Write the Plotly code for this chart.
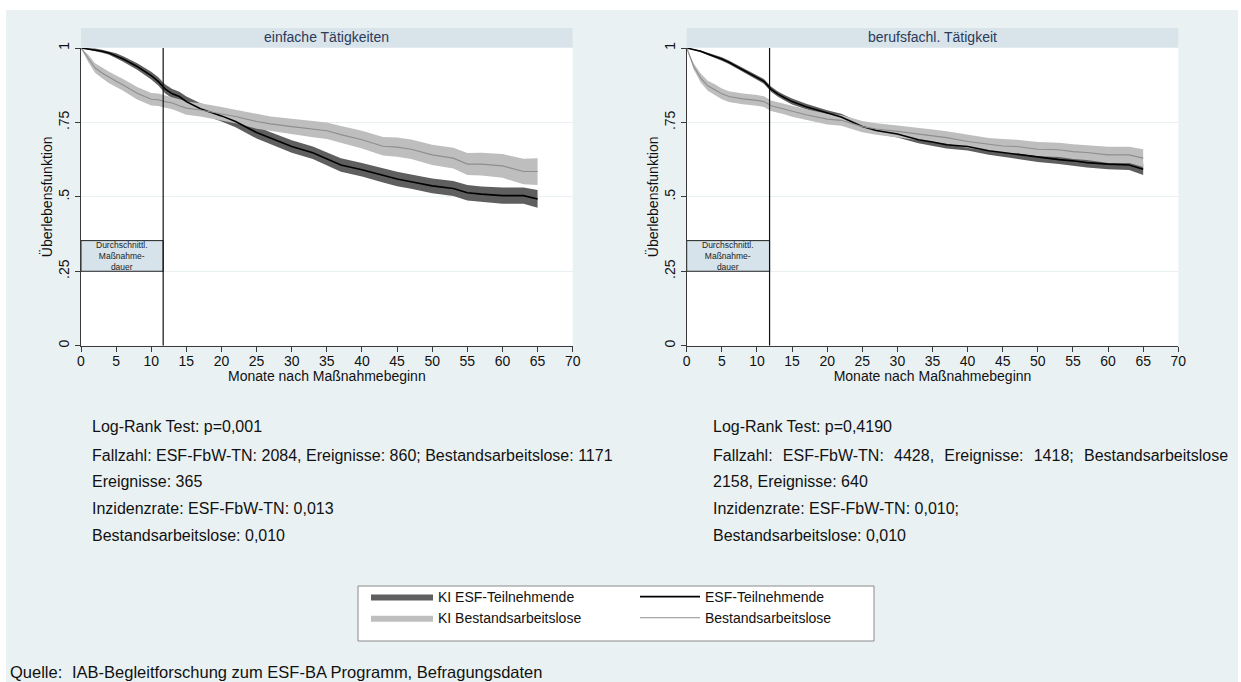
import plotly.graph_objects as go

# ---------------- data ----------------
MONTHS = [0, 1, 2, 3, 4, 5, 6, 8, 10, 11, 12, 13, 14, 15, 17, 20, 22, 25, 27, 30,
          33, 35, 37, 40, 43, 45, 47, 50, 53, 55, 57, 60, 63, 65]

# Panel 1: einfache Tätigkeiten
L_ESF = [1.0, 0.997, 0.994, 0.989, 0.983, 0.974, 0.963, 0.938, 0.907, 0.888, 0.862, 0.846,
         0.837, 0.82, 0.796, 0.772, 0.753, 0.716, 0.697, 0.669, 0.648, 0.627, 0.607, 0.591,
         0.572, 0.56, 0.551, 0.537, 0.528, 0.514, 0.509, 0.504, 0.504, 0.493]
L_ESF_UP = [1.0, 0.999, 0.998, 0.994, 0.989, 0.982, 0.972, 0.949, 0.92, 0.902, 0.877, 0.862,
            0.853, 0.837, 0.814, 0.791, 0.772, 0.736, 0.717, 0.69, 0.669, 0.649, 0.63, 0.614,
            0.595, 0.584, 0.575, 0.562, 0.553, 0.54, 0.535, 0.531, 0.531, 0.523]
L_ESF_LO = [1.0, 0.995, 0.99, 0.984, 0.977, 0.966, 0.954, 0.927, 0.894, 0.874, 0.847, 0.831,
            0.821, 0.803, 0.778, 0.753, 0.734, 0.696, 0.677, 0.648, 0.627, 0.605, 0.584, 0.568,
            0.548, 0.536, 0.527, 0.512, 0.503, 0.488, 0.483, 0.477, 0.477, 0.463]
L_BAL = [1.0, 0.966, 0.933, 0.916, 0.901, 0.888, 0.876, 0.848, 0.828, 0.826, 0.82, 0.815,
         0.806, 0.798, 0.792, 0.779, 0.77, 0.753, 0.745, 0.736, 0.727, 0.722, 0.709, 0.692,
         0.67, 0.667, 0.66, 0.641, 0.63, 0.61, 0.61, 0.604, 0.585, 0.585]
L_BAL_UP = [1.0, 0.978, 0.949, 0.934, 0.92, 0.908, 0.896, 0.869, 0.849, 0.847, 0.841, 0.836,
            0.828, 0.82, 0.814, 0.802, 0.793, 0.777, 0.77, 0.762, 0.754, 0.75, 0.738, 0.722,
            0.701, 0.699, 0.693, 0.675, 0.665, 0.647, 0.648, 0.644, 0.628, 0.63]
L_BAL_LO = [1.0, 0.954, 0.917, 0.898, 0.882, 0.868, 0.856, 0.827, 0.807, 0.805, 0.799, 0.794,
            0.784, 0.776, 0.77, 0.756, 0.747, 0.729, 0.72, 0.71, 0.7, 0.694, 0.68, 0.662,
            0.639, 0.635, 0.627, 0.607, 0.595, 0.573, 0.572, 0.564, 0.542, 0.54]

# Panel 2: berufsfachl. Tätigkeit
R_ESF = [1.0, 0.995, 0.989, 0.98, 0.972, 0.963, 0.952, 0.927, 0.901, 0.888, 0.862, 0.845,
         0.832, 0.82, 0.803, 0.781, 0.768, 0.736, 0.723, 0.711, 0.692, 0.684, 0.675, 0.669,
         0.655, 0.649, 0.643, 0.632, 0.625, 0.621, 0.615, 0.61, 0.607, 0.593]
R_ESF_UP = [1.0, 0.997, 0.992, 0.984, 0.977, 0.969, 0.958, 0.934, 0.909, 0.896, 0.871, 0.854,
            0.841, 0.83, 0.813, 0.791, 0.779, 0.747, 0.734, 0.723, 0.704, 0.697, 0.688, 0.682,
            0.669, 0.663, 0.657, 0.647, 0.64, 0.637, 0.631, 0.627, 0.624, 0.613]
R_ESF_LO = [1.0, 0.993, 0.986, 0.976, 0.967, 0.957, 0.946, 0.92, 0.893, 0.88, 0.853, 0.836,
            0.823, 0.81, 0.793, 0.771, 0.757, 0.725, 0.712, 0.699, 0.68, 0.671, 0.662, 0.656,
            0.641, 0.635, 0.629, 0.617, 0.61, 0.605, 0.599, 0.593, 0.59, 0.573]
R_BAL = [1.0, 0.938, 0.899, 0.873, 0.86, 0.846, 0.837, 0.829, 0.824, 0.82, 0.806, 0.8,
         0.795, 0.787, 0.776, 0.761, 0.757, 0.736, 0.728, 0.72, 0.712, 0.705, 0.699, 0.686,
         0.676, 0.671, 0.669, 0.66, 0.658, 0.652, 0.649, 0.641, 0.641, 0.63]
R_BAL_UP = [1.0, 0.948, 0.914, 0.89, 0.878, 0.864, 0.855, 0.847, 0.842, 0.838, 0.824, 0.818,
            0.813, 0.805, 0.794, 0.779, 0.775, 0.755, 0.747, 0.74, 0.733, 0.726, 0.72, 0.708,
            0.698, 0.694, 0.692, 0.684, 0.682, 0.677, 0.674, 0.668, 0.668, 0.66]
R_BAL_LO = [1.0, 0.928, 0.884, 0.856, 0.842, 0.828, 0.819, 0.811, 0.806, 0.802, 0.788, 0.782,
            0.777, 0.769, 0.758, 0.743, 0.739, 0.717, 0.709, 0.7, 0.691, 0.684, 0.678, 0.664,
            0.654, 0.648, 0.646, 0.636, 0.634, 0.627, 0.624, 0.614, 0.614, 0.6]

MEAN_DURATION = [11.7, 11.8]          # mean programme duration (months), per panel
PANEL_TITLES = ["einfache Tätigkeiten", "berufsfachl. Tätigkeit"]
X_TICKS = list(range(0, 75, 5))
Y_TICKS = [0, 0.25, 0.5, 0.75, 1]
Y_TICKTEXT = ["0", ".25", ".5", ".75", "1"]
SERIES_NAMES = ["KI ESF-Teilnehmende", "KI Bestandsarbeitslose", "ESF-Teilnehmende", "Bestandsarbeitslose"]

STATS_LEFT = [
    "Log-Rank Test: p=0,001",
    "Fallzahl: ESF-FbW-TN: 2084, Ereignisse: 860; Bestandsarbeitslose: 1171",
    "Ereignisse: 365",
    "Inzidenzrate: ESF-FbW-TN: 0,013",
    "Bestandsarbeitslose: 0,010",
]
GAP = "\u00a0\u00a0\u200a"
STATS_RIGHT = [
    "Log-Rank Test: p=0,4190",
    f"Fallzahl:{GAP}ESF-FbW-TN:{GAP}4428,{GAP}Ereignisse:{GAP}1418;{GAP}Bestandsarbeitslose",
    "2158, Ereignisse: 640",
    "Inzidenzrate: ESF-FbW-TN: 0,010;",
    "Bestandsarbeitslose: 0,010",
]
SOURCE = ("Quelle:", "IAB-Begleitforschung zum ESF-BA Programm, Befragungsdaten")

# ---------------- styling / layout ----------------
W, H = 1241, 682
FONT = "Arial, 'Liberation Sans', sans-serif"
BG = "#EAF1F3"
STRIP = "#D8E4EA"
DARK = "#5F5F5F"
LIGHT = "#BEBEBE"


def fx(p):
    return p / W


def fy(p):
    return 1 - p / H


panels = [
    dict(esf=L_ESF, esf_up=L_ESF_UP, esf_lo=L_ESF_LO, bal=L_BAL, bal_up=L_BAL_UP, bal_lo=L_BAL_LO,
         dom=(fx(81), fx(572.7))),
    dict(esf=R_ESF, esf_up=R_ESF_UP, esf_lo=R_ESF_LO, bal=R_BAL, bal_up=R_BAL_UP, bal_lo=R_BAL_LO,
         dom=(fx(686.7), fx(1178.3))),
]
YDOM = (fy(345.7), fy(48))

fig = go.Figure()
back = MONTHS[::-1]
for i, p in enumerate(panels):
    xa = "x" if i == 0 else "x2"
    ya = "y" if i == 0 else "y2"
    show = i == 0
    fig.add_trace(go.Scatter(x=MONTHS + back, y=p["esf_up"] + p["esf_lo"][::-1], fill="toself",
                             fillcolor=DARK, line=dict(width=0, color=DARK), mode="lines",
                             name=SERIES_NAMES[0], legend="legend", legendrank=1,
                             showlegend=show, hoverinfo="skip", xaxis=xa, yaxis=ya))
    fig.add_trace(go.Scatter(x=MONTHS + back, y=p["bal_up"] + p["bal_lo"][::-1], fill="toself",
                             fillcolor=LIGHT, line=dict(width=0, color=LIGHT), mode="lines",
                             name=SERIES_NAMES[1], legend="legend", legendrank=2,
                             showlegend=show, hoverinfo="skip", xaxis=xa, yaxis=ya))
    fig.add_trace(go.Scatter(x=MONTHS, y=p["esf"], mode="lines", line=dict(color="#000000", width=1.6),
                             name=SERIES_NAMES[2], legend="legend2", legendrank=1,
                             showlegend=show, xaxis=xa, yaxis=ya))
    fig.add_trace(go.Scatter(x=MONTHS, y=p["bal"], mode="lines", line=dict(color="#8E8E8E", width=1.1),
                             name=SERIES_NAMES[3], legend="legend2", legendrank=2,
                             showlegend=show, xaxis=xa, yaxis=ya))

axis_common = dict(showline=True, linecolor="#3A3A3A", linewidth=1, ticks="outside", ticklen=5,
                   tickcolor="#3A3A3A", tickfont=dict(family=FONT, size=14, color="#111111"),
                   zeroline=False, fixedrange=True, automargin=False)
layout = dict(
    width=W, height=H, margin=dict(l=0, r=0, t=0, b=0, autoexpand=False),
    paper_bgcolor=BG, plot_bgcolor="#FFFFFF", font=dict(family=FONT, color="#111111"),
    showlegend=True,
    legend=dict(x=fx(366), y=fy(581), xanchor="left", yanchor="top", orientation="v",
                bgcolor="rgba(0,0,0,0)", borderwidth=0, font=dict(family=FONT, size=14, color="#111111"),
                itemwidth=62, tracegroupgap=0, traceorder="normal"),
    legend2=dict(x=fx(635), y=fy(581), xanchor="left", yanchor="top", orientation="v",
                 bgcolor="rgba(0,0,0,0)", borderwidth=0, font=dict(family=FONT, size=14, color="#111111"),
                 itemwidth=60, tracegroupgap=0, traceorder="normal"),
)
for i, p in enumerate(panels):
    sx = "" if i == 0 else "2"
    layout["xaxis" + sx] = dict(axis_common, domain=list(p["dom"]), range=[0, 70], tickvals=X_TICKS,
                                showgrid=False, anchor="y" + sx, ticklabelstandoff=-3,
                                title=dict(text="Monate nach Maßnahmebeginn", standoff=0,
                                           font=dict(family=FONT, size=14, color="#111111")))
    layout["yaxis" + sx] = dict(axis_common, domain=list(YDOM), range=[0, 1], tickvals=Y_TICKS,
                                ticktext=Y_TICKTEXT, tickangle=-90, showgrid=True, gridcolor="#E8F0F2",
                                gridwidth=1, anchor="x" + sx,
                                title=dict(text="Überlebensfunktion", standoff=0,
                                           font=dict(family=FONT, size=14, color="#111111")))
fig.update_layout(**layout)

shapes = []
annotations = []
# white frame outside the graph region
shapes.append(dict(type="rect", xref="paper", yref="paper", x0=0, x1=1, y0=fy(10), y1=1,
                   fillcolor="#FFFFFF", line=dict(width=0), layer="below"))
shapes.append(dict(type="rect", xref="paper", yref="paper", x0=0, x1=fx(6), y0=0, y1=1,
                   fillcolor="#FFFFFF", line=dict(width=0), layer="below"))
shapes.append(dict(type="rect", xref="paper", yref="paper", x0=fx(1238), x1=1, y0=0, y1=1,
                   fillcolor="#FFFFFF", line=dict(width=0), layer="below"))
for i, p in enumerate(panels):
    sx = "" if i == 0 else "2"
    # panel strip
    shapes.append(dict(type="rect", xref="paper", yref="paper", x0=p["dom"][0], x1=p["dom"][1],
                       y0=fy(47.5), y1=fy(28), fillcolor=STRIP, line=dict(width=0), layer="below"))
    annotations.append(dict(text=PANEL_TITLES[i], xref="paper", yref="paper",
                            x=(p["dom"][0] + p["dom"][1]) / 2, y=fy(37.5), xanchor="center",
                            yanchor="middle", showarrow=False,
                            font=dict(family=FONT, size=14, color="#2B3A5A")))
    # mean-duration marker
    md = MEAN_DURATION[i]
    shapes.append(dict(type="rect", xref="x" + sx, yref="y" + sx, x0=0, x1=md, y0=0.25, y1=0.353,
                       fillcolor="#D6E3EA", line=dict(color="#222222", width=1), layer="above"))
    shapes.append(dict(type="line", xref="x" + sx, yref="y" + sx, x0=md, x1=md, y0=0, y1=1,
                       line=dict(color="#111111", width=1.2), layer="above"))
    annotations.append(dict(text="Durchschnittl.<br>Maßnahme-<br>dauer", xref="x" + sx, yref="y" + sx,
                            x=md / 2, y=0.3015, showarrow=False, xanchor="center", yanchor="middle",
                            font=dict(family=FONT, size=8.5, color="#222222")))

# statistics text blocks
line_y = [426, 455, 481.5, 508.5, 535]
for x0, lines in ((90, STATS_LEFT), (711, STATS_RIGHT)):
    for ly, txt in zip(line_y, lines):
        annotations.append(dict(text=txt, xref="paper", yref="paper", x=fx(x0), y=fy(ly),
                                xanchor="left", yanchor="middle", showarrow=False,
                                font=dict(family=FONT, size=16, color="#111111")))

# legend frame
shapes.append(dict(type="rect", xref="paper", yref="paper", x0=fx(358), x1=fx(874), y0=fy(641),
                   y1=fy(586), fillcolor="#FFFFFF", line=dict(color="#8A8A8A", width=1), layer="below"))

# source line
annotations.append(dict(text=SOURCE[0], xref="paper", yref="paper", x=fx(8), y=fy(672),
                        xanchor="left", yanchor="middle", showarrow=False,
                        font=dict(family=FONT, size=16.5, color="#111111")))
annotations.append(dict(text=SOURCE[1], xref="paper", yref="paper", x=fx(70), y=fy(672),
                        xanchor="left", yanchor="middle", showarrow=False,
                        font=dict(family=FONT, size=16.5, color="#111111")))

fig.update_layout(shapes=shapes, annotations=annotations)
fig.write_html("out.html", config={"displayModeBar": False},
               post_script="document.body.style.margin='0';document.documentElement.style.overflow='hidden';")
